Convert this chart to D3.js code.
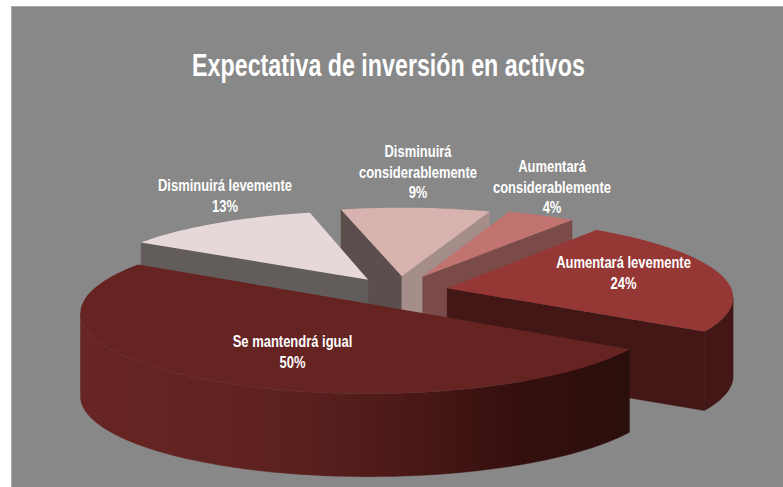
<!DOCTYPE html>
<html>
<head>
<meta charset="utf-8">
<script src="https://cdn.jsdelivr.net/npm/d3@7"></script>
<style>
html, body { margin: 0; padding: 0; background: #fff; overflow: hidden; }
text { font-family: "Liberation Sans", Arial, sans-serif; font-weight: bold; fill: #fff; text-anchor: middle; }
</style>
</head>
<body>
<svg id="chart" width="783" height="487"></svg>
<script>
var chart_title = "Expectativa de inversión en activos";
var categories = ["Aumentará levemente", "Se mantendrá igual", "Disminuirá levemente", "Disminuirá considerablemente", "Aumentará considerablemente"];
var values = [24, 49.8, 12.5, 9.4, 4.3];

// styles, same order as categories
var top_colors = ["#953735", "#652422", "#e6d8d8", "#d7b2ae", "#c0736f"];
var wall_in_colors = ["#421715", "#421715", "#625c5b", "#5b4e4c", "#7a4b49"];
var wall_out_colors = ["#421715", "#421715", "#625c5b", "#a58d8a", "#7a4b49"];
var rim_colors = ["#421715", "url(#rim50)", "#625c5b", "#a58d8a", "#7a4b49"];
var draw_order = [3, 4, 2, 0, 1];
var shift_x = [0, 2, 1, 2, 2];
var shift_y = [0, 1, 0, -1, -2];
var depths = [79, 83, 80, 80, 80];

// label anchors: centre x, first baseline
var label_x = [623.5, 292.5, 225, 418, 552];
var label_y = [268, 347, 191, 157, 172];
var label_wrap = [false, false, false, true, true];
var label_k = 0.81;

// camera for the tilted pie
var cx = 397, cy = 291, rx = 285, ry = 78, persp = 0.1, explode = 0.18;
var start_deg = 35.6;

var svg = d3.select("#chart");

svg.append("rect")
    .attr("x", 11.5).attr("y", 6.5)
    .attr("width", 790).attr("height", 500)
    .attr("fill", "#888888")
    .attr("stroke", "#a8a8a8");

var grad = svg.append("defs").append("linearGradient")
    .attr("id", "rim50")
    .attr("gradientUnits", "userSpaceOnUse")
    .attr("x1", 83).attr("x2", 626).attr("y1", 0).attr("y2", 0);
[[0, "#672523"], [0.35, "#5e2220"], [0.6, "#4a1917"], [0.8, "#350f0e"], [1, "#2b0f0c"]].forEach(function(s) {
    grad.append("stop").attr("offset", s[0]).attr("stop-color", s[1]);
});

function project(u, v, i) {
    var s = 1 / (1 - persp * v);
    return [cx + rx * u * s + shift_x[i], cy + ry * v * s + shift_y[i]];
}

var pie = d3.pie().sort(null)
    .startAngle(start_deg * Math.PI / 180)
    .endAngle(start_deg * Math.PI / 180 + 2 * Math.PI);
var arcs = pie(values);

var line = d3.line();

function wall(p, q, depth) {
    return line([p, q, [q[0], q[1] + depth], [p[0], p[1] + depth]]) + "Z";
}

function draw_slice(i) {
    var a = arcs[i];
    var mid = (a.startAngle + a.endAngle) / 2;
    var ou = explode * Math.sin(mid), ov = -explode * Math.cos(mid);
    var apex = project(ou, ov, i);
    var depth = depths[i];

    var n = Math.ceil((a.endAngle - a.startAngle) / 0.02);
    var rim = d3.range(n + 1).map(function(k) {
        var t = a.startAngle + (a.endAngle - a.startAngle) * k / n;
        return project(ou + Math.sin(t), ov - Math.cos(t), i);
    });
    var first = rim[0], last = rim[rim.length - 1];
    var g = svg.append("g").attr("class", "slice");

    // walls only where the top edge runs right to left (faces the viewer)
    if (first[0] < apex[0]) {
        g.append("path").attr("d", wall(apex, first, depth))
            .attr("fill", wall_in_colors[i]).attr("stroke", wall_in_colors[i]).attr("stroke-width", 0.4);
    }
    if (apex[0] < last[0]) {
        g.append("path").attr("d", wall(last, apex, depth))
            .attr("fill", wall_out_colors[i]).attr("stroke", wall_out_colors[i]).attr("stroke-width", 0.4);
    }

    var front = rim.filter(function(p, k) {
        return (k > 0 && p[0] < rim[k - 1][0]) || (k < n && rim[k + 1][0] < p[0]);
    });
    if (front.length > 1) {
        var lower = front.map(function(p) { return [p[0], p[1] + depth]; }).reverse();
        g.append("path").attr("d", line(front.concat(lower)) + "Z")
            .attr("fill", rim_colors[i]).attr("stroke", rim_colors[i]).attr("stroke-width", 0.4);
    }

    g.append("path")
        .attr("d", line([apex].concat(rim)) + "Z")
        .attr("fill", top_colors[i]);
}

draw_order.forEach(draw_slice);

function squeezed(x, y, str, size, k) {
    var t = svg.append("text")
        .attr("x", x).attr("y", y)
        .attr("font-size", size)
        .text(str);
    t.attr("textLength", t.node().getComputedTextLength() * k)
        .attr("lengthAdjust", "spacingAndGlyphs");
}

squeezed(388.5, 76, chart_title, 31, 0.75);

categories.forEach(function(name, i) {
    var lines = [name];
    if (label_wrap[i]) lines = name.split(" ");
    lines.push(d3.format(".0f")(values[i]) + "%");
    lines.forEach(function(str, j) {
        squeezed(label_x[i], label_y[i] + j * 20.7, str, 16, label_k);
    });
});
</script>
</body>
</html>
